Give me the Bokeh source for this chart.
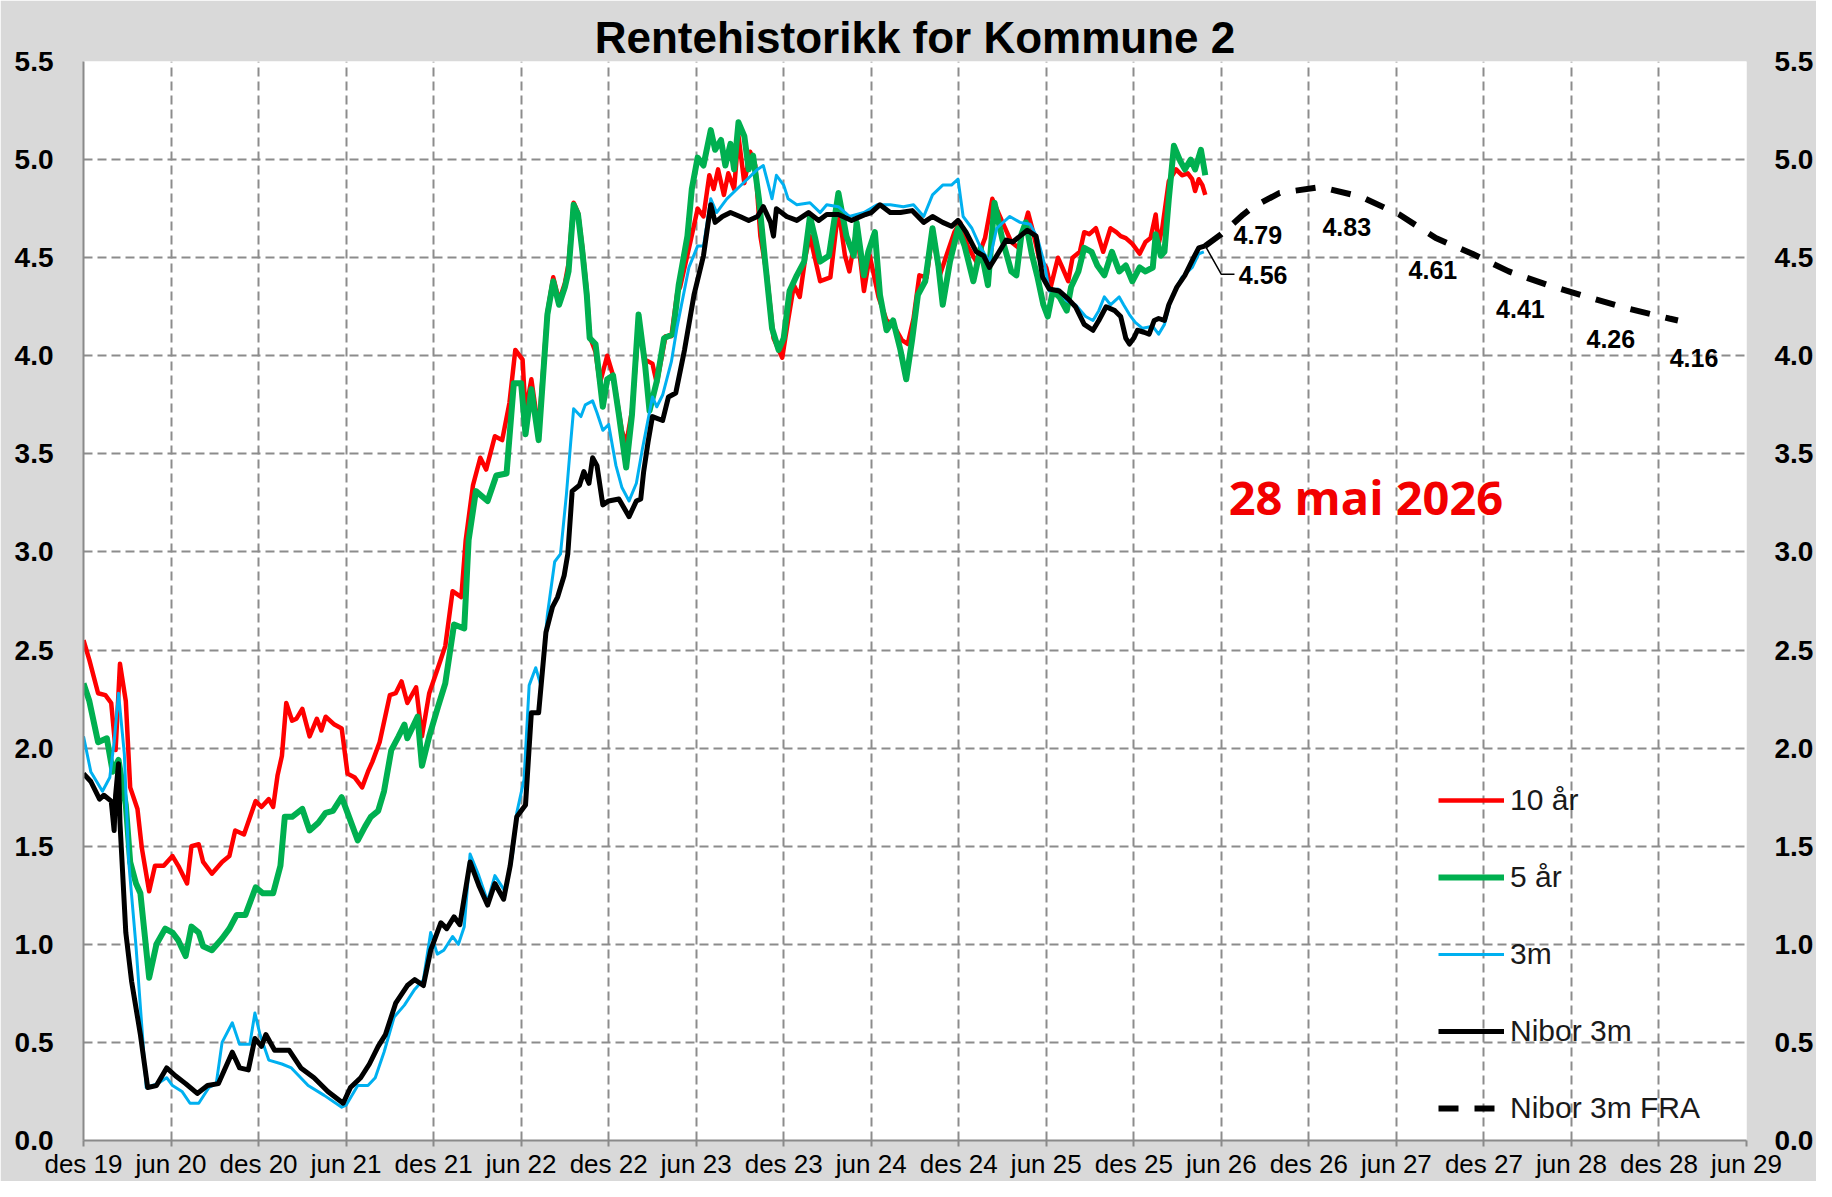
from bokeh.plotting import figure
from bokeh.models import Range1d, LinearAxis, FixedTicker, Legend, LegendItem, Label, NumeralTickFormatter
from bokeh.embed import file_html
from bokeh.resources import INLINE
from bokeh.core.properties import value

# x = months since December 2019
tick_pos = list(range(0, 115, 6))
tick_labels = ["des 19", "jun 20", "des 20", "jun 21", "des 21", "jun 22", "des 22",
               "jun 23", "des 23", "jun 24", "des 24", "jun 25", "des 25", "jun 26",
               "des 26", "jun 27", "des 27", "jun 28", "des 28", "jun 29"]

red_x = [0.0, 0.4, 1.0, 1.5, 1.9, 2.2, 2.5, 2.9, 3.2, 3.7, 4.0, 4.5, 4.9, 5.5, 6.1, 6.5, 7.1, 7.4, 7.9, 8.2,
         8.8, 9.5, 10.0, 10.4, 11.0, 11.8, 12.2, 12.7, 13.0, 13.3, 13.6, 13.9, 14.3, 14.6, 15.0, 15.5, 16.0, 16.3,
         16.6, 17.2, 17.7, 18.1, 18.6, 19.1, 19.5, 19.8, 20.3, 21.0, 21.4, 21.8, 22.2, 22.8, 23.2, 23.7, 24.3,
         24.8, 25.3, 25.9, 26.2, 26.7, 27.2, 27.6, 28.2, 28.7, 29.2, 29.6, 30.1, 30.3, 30.7, 31.2, 31.8, 32.2,
         32.6, 33.0, 33.25, 33.6, 33.9, 34.2, 34.5, 34.7, 35.1, 35.4, 35.9, 36.3, 36.9, 37.2, 37.6, 38.05, 38.5,
         39.0, 39.3, 39.9, 40.3, 40.7, 40.9, 41.6, 42.1, 42.5, 42.9, 43.2, 43.5, 43.9, 44.2, 44.6, 44.9, 45.3,
         45.7, 46.05, 46.4, 46.85, 47.3, 47.9, 48.3, 48.7, 49.1, 49.5, 49.8, 50.5, 51.2, 51.75, 52.2, 52.5, 53.0,
         53.5, 53.9, 54.5, 55.05, 55.5, 56.1, 56.5, 56.9, 57.3, 57.8, 58.2, 58.7, 59.15, 59.7, 60.1, 60.6, 61.2,
         61.8, 62.3, 63.0, 63.6, 64.1, 64.75, 65.1, 65.5, 66.0, 66.3, 66.8, 67.1, 67.5, 67.8, 68.3, 68.6, 68.95,
         69.4, 69.9, 70.4, 70.8, 71.1, 71.45, 71.9, 72.4, 72.8, 73.15, 73.5, 73.7, 73.95, 74.4, 74.9, 75.3, 75.7,
         76.0, 76.2, 76.45, 76.7, 76.9]
red_y = [2.55, 2.45, 2.28, 2.27, 2.23, 1.99, 2.43, 2.24, 1.80, 1.69, 1.49, 1.27, 1.40, 1.40, 1.45, 1.40, 1.31, 1.50,
         1.51, 1.42, 1.36, 1.42, 1.45, 1.58, 1.56, 1.73, 1.70, 1.74, 1.70, 1.86, 1.96, 2.23, 2.14, 2.15, 2.20, 2.06,
         2.15, 2.09, 2.16, 2.12, 2.10, 1.87, 1.85, 1.80, 1.88, 1.93, 2.03, 2.27, 2.28, 2.34, 2.23, 2.31, 2.06, 2.28,
         2.41, 2.52, 2.80, 2.77, 3.06, 3.34, 3.48, 3.42, 3.59, 3.57, 3.76, 4.03, 3.98, 3.71, 3.88, 3.62, 4.22, 4.40,
         4.28, 4.37, 4.47, 4.78, 4.73, 4.55, 4.33, 4.10, 4.02, 3.86, 4.00, 3.90, 3.62, 3.55, 3.72, 4.15, 3.98, 3.96,
         3.86, 4.10, 4.10, 4.32, 4.35, 4.58, 4.75, 4.71, 4.92, 4.85, 4.95, 4.82, 4.93, 4.85, 5.12, 4.88, 5.04, 4.97,
         4.61, 4.41, 4.09, 3.99, 4.18, 4.36, 4.30, 4.51, 4.61, 4.38, 4.40, 4.75, 4.51, 4.43, 4.65, 4.33, 4.51, 4.30,
         4.18, 4.16, 4.08, 4.06, 4.19, 4.41, 4.40, 4.63, 4.41, 4.51, 4.63, 4.68, 4.56, 4.48, 4.60, 4.80, 4.68, 4.58,
         4.55, 4.73, 4.63, 4.50, 4.45, 4.35, 4.50, 4.45, 4.38, 4.50, 4.53, 4.63, 4.62, 4.65, 4.53, 4.65, 4.63, 4.61,
         4.60, 4.57, 4.52, 4.58, 4.60, 4.72, 4.57, 4.65, 4.89, 4.95, 4.92, 4.93, 4.90, 4.84, 4.90, 4.87, 4.82]

green_x = [0.0, 0.4, 1.0, 1.6, 2.0, 2.4, 2.9, 3.2, 3.6, 3.9, 4.5, 5.0, 5.6, 6.1, 6.5, 7.0, 7.4, 7.9, 8.2, 8.8, 9.5,
           10.0, 10.5, 11.1, 11.8, 12.3, 13.0, 13.5, 13.8, 14.3, 15.0, 15.5, 16.1, 16.6, 17.1, 17.7, 18.1, 18.8,
           19.3, 19.7, 20.2, 20.6, 21.1, 21.6, 22.0, 22.2, 22.9, 23.2, 23.7, 24.3, 24.8, 25.4, 26.1, 26.4, 26.9,
           27.7, 28.3, 29.0, 29.5, 30.0, 30.3, 30.7, 31.2, 31.8, 32.2, 32.6, 33.0, 33.25, 33.6, 33.9, 34.2, 34.5,
           34.7, 35.1, 35.6, 35.9, 36.3, 36.7, 37.2, 37.6, 38.05, 38.5, 38.8, 39.3, 39.8, 40.4, 40.8, 41.4, 41.7,
           42.1, 42.5, 43.0, 43.3, 43.7, 44.0, 44.35, 44.6, 44.9, 45.3, 45.6, 45.9, 46.3, 46.7, 47.2, 47.65, 48.0,
           48.4, 48.9, 49.4, 49.8, 50.15, 50.5, 51.1, 51.75, 52.3, 52.8, 53.0, 53.5, 53.8, 54.25, 54.6, 55.05, 55.5,
           56.0, 56.4, 56.8, 57.2, 57.7, 58.2, 58.6, 58.9, 59.4, 59.95, 60.4, 61.0, 61.5, 62.0, 62.45, 63.0, 63.6,
           63.95, 64.3, 64.6, 65.0, 65.4, 65.8, 66.1, 66.45, 66.9, 67.4, 67.7, 68.2, 68.6, 69.1, 69.5, 69.98, 70.5,
           71.0, 71.45, 71.9, 72.4, 72.8, 73.3, 73.5, 73.85, 74.1, 74.4, 74.75, 75.2, 75.5, 75.9, 76.2, 76.6, 76.9]
green_y = [2.33, 2.24, 2.03, 2.05, 1.88, 1.94, 1.71, 1.42, 1.31, 1.26, 0.83, 1.00, 1.08, 1.06, 1.02, 0.94, 1.09, 1.06,
           0.99, 0.97, 1.03, 1.08, 1.15, 1.15, 1.29, 1.26, 1.26, 1.40, 1.65, 1.65, 1.69, 1.58, 1.62, 1.67, 1.68, 1.75,
           1.67, 1.53, 1.60, 1.65, 1.68, 1.78, 1.99, 2.06, 2.12, 2.05, 2.16, 1.91, 2.06, 2.21, 2.33, 2.63, 2.61, 3.06,
           3.31, 3.26, 3.39, 3.40, 3.86, 3.86, 3.60, 3.83, 3.57, 4.21, 4.38, 4.26, 4.35, 4.43, 4.77, 4.72, 4.53, 4.31,
           4.09, 4.06, 3.74, 3.88, 3.90, 3.70, 3.43, 3.70, 4.21, 3.95, 3.72, 3.87, 4.09, 4.11, 4.36, 4.61, 4.85, 5.01,
           4.97, 5.15, 5.05, 5.10, 4.97, 5.08, 4.95, 5.19, 5.12, 4.95, 5.02, 4.80, 4.50, 4.14, 4.03, 4.09, 4.33, 4.41,
           4.48, 4.71, 4.60, 4.48, 4.51, 4.83, 4.61, 4.51, 4.68, 4.41, 4.53, 4.63, 4.31, 4.13, 4.18, 4.03, 3.88, 4.08,
           4.31, 4.38, 4.65, 4.46, 4.26, 4.48, 4.65, 4.56, 4.38, 4.55, 4.36, 4.78, 4.59, 4.43, 4.41, 4.62, 4.68, 4.52,
           4.40, 4.26, 4.20, 4.33, 4.30, 4.23, 4.35, 4.43, 4.55, 4.53, 4.46, 4.41, 4.53, 4.43, 4.46, 4.38, 4.45, 4.43,
           4.45, 4.62, 4.51, 4.53, 4.80, 5.07, 4.99, 4.95, 5.00, 4.95, 5.05, 4.92]

blue_x = [0.0, 0.5, 1.3, 1.8, 2.1, 2.4, 2.8, 3.1, 3.6, 4.3, 5.1, 5.7, 6.1, 6.75, 7.3, 7.9, 8.6, 9.1, 9.5, 10.2, 10.7,
          11.4, 11.75, 12.1, 12.7, 13.6, 14.25, 15.4, 16.5, 17.7, 18.0, 18.8, 19.5, 20.0, 20.6, 21.3, 22.0, 22.7,
          23.3, 23.8, 24.25, 24.7, 25.3, 25.7, 26.1, 26.5, 27.1, 27.7, 28.2, 28.9, 29.4, 29.7, 30.2, 30.55, 31.0,
          31.35, 31.8, 32.3, 32.7, 33.1, 33.4, 33.6, 34.1, 34.4, 34.9, 35.2, 35.6, 36.0, 36.5, 36.9, 37.4, 37.9,
          38.3, 39.0, 39.3, 39.7, 40.3, 40.7, 41.1, 41.5, 42.1, 42.5, 43.0, 43.4, 44.1, 44.8, 45.5, 46.2, 46.6,
          47.2, 47.5, 48.0, 48.3, 48.9, 49.8, 50.5, 50.95, 51.75, 52.5, 53.5, 54.4, 55.3, 56.2, 56.9, 57.6, 58.2,
          58.9, 59.5, 59.95, 60.3, 60.9, 61.5, 62.1, 62.6, 63.5, 64.2, 64.9, 65.4, 65.9, 66.2, 66.8, 67.4, 68.0,
          68.7, 69.2, 69.6, 69.98, 70.4, 71.0, 71.3, 71.7, 72.1, 72.6, 73.3, 73.7, 74.1, 74.6, 75.3, 76.0, 76.45,
          76.8]
blue_y = [2.06, 1.88, 1.78, 1.85, 2.03, 2.28, 1.97, 1.42, 0.99, 0.27, 0.29, 0.32, 0.28, 0.25, 0.19, 0.19, 0.27, 0.29,
          0.50, 0.60, 0.49, 0.49, 0.65, 0.54, 0.41, 0.39, 0.37, 0.28, 0.23, 0.17, 0.18, 0.28, 0.28, 0.32, 0.45, 0.63,
          0.69, 0.77, 0.82, 1.06, 0.95, 0.97, 1.04, 1.00, 1.09, 1.46, 1.35, 1.22, 1.35, 1.27, 1.45, 1.67, 1.84, 2.32,
          2.41, 2.32, 2.68, 2.95, 2.99, 3.29, 3.56, 3.73, 3.69, 3.75, 3.77, 3.71, 3.62, 3.65, 3.44, 3.33, 3.26, 3.35,
          3.52, 3.79, 3.74, 3.80, 3.97, 4.15, 4.30, 4.45, 4.56, 4.56, 4.80, 4.73, 4.80, 4.85, 4.90, 4.95, 4.97, 4.80,
          4.92, 4.87, 4.80, 4.77, 4.78, 4.73, 4.77, 4.76, 4.71, 4.73, 4.77, 4.77, 4.76, 4.77, 4.71, 4.82, 4.87, 4.87,
          4.90, 4.71, 4.65, 4.55, 4.48, 4.65, 4.71, 4.68, 4.67, 4.60, 4.46, 4.33, 4.34, 4.28, 4.26, 4.20, 4.18, 4.23,
          4.30, 4.26, 4.30, 4.26, 4.21, 4.17, 4.14, 4.15, 4.11, 4.16, 4.30, 4.40, 4.45, 4.52, 4.53]

nibor_x = [0.0, 0.5, 1.1, 1.4, 1.9, 2.1, 2.2, 2.4, 2.5, 2.9, 3.3, 3.9, 4.4, 5.0, 5.7, 6.3, 7.0, 7.8, 8.5, 9.25, 10.2,
           10.7, 11.3, 11.75, 12.2, 12.5, 13.1, 14.1, 14.9, 15.8, 16.75, 17.8, 18.3, 19.0, 19.6, 20.2, 20.7, 21.4,
           22.2, 22.7, 23.3, 23.8, 24.5, 24.9, 25.4, 25.8, 26.5, 27.1, 27.7, 28.2, 28.8, 29.25, 29.7, 30.3, 30.7,
           31.2, 31.7, 32.15, 32.5, 32.95, 33.2, 33.5, 34.0, 34.3, 34.65, 34.9, 35.2, 35.6, 36.0, 36.7, 37.4, 37.9,
           38.2, 38.4, 38.7, 39.0, 39.7, 40.1, 40.6, 41.2, 41.85, 42.5, 43.0, 43.3, 43.8, 44.35, 45.0, 45.6, 46.2,
           46.6, 47.1, 47.3, 47.5, 48.2, 48.9, 49.7, 50.4, 50.95, 51.75, 52.65, 53.6, 54.0, 54.6, 55.3, 56.0, 56.8,
           57.6, 58.2, 58.9, 59.5, 59.95, 60.5, 61.2, 61.7, 62.1, 62.6, 63.25, 63.7, 64.2, 64.7, 65.3, 65.75, 66.2,
           66.9, 67.5, 68.0, 68.6, 69.2, 69.6, 70.1, 70.7, 71.1, 71.45, 71.7, 72.0, 72.25, 72.7, 73.05, 73.4, 73.7,
           74.1, 74.4, 74.95, 75.5, 76.1, 76.45, 76.9]
nibor_y = [1.87, 1.83, 1.74, 1.76, 1.73, 1.58, 1.76, 1.92, 1.62, 1.06, 0.81, 0.54, 0.27, 0.28, 0.37, 0.33, 0.29, 0.24,
           0.28, 0.29, 0.45, 0.37, 0.36, 0.52, 0.48, 0.54, 0.46, 0.46, 0.37, 0.32, 0.25, 0.19, 0.27, 0.32, 0.39, 0.48,
           0.54, 0.70, 0.79, 0.82, 0.79, 0.97, 1.11, 1.08, 1.14, 1.10, 1.42, 1.30, 1.20, 1.31, 1.23, 1.40, 1.65, 1.71,
           2.18, 2.18, 2.59, 2.72, 2.77, 2.88, 2.99, 3.31, 3.34, 3.41, 3.35, 3.48, 3.44, 3.24, 3.26, 3.27, 3.18, 3.26,
           3.27, 3.41, 3.56, 3.69, 3.67, 3.79, 3.81, 4.03, 4.31, 4.51, 4.77, 4.68, 4.71, 4.73, 4.71, 4.69, 4.71, 4.76,
           4.68, 4.61, 4.75, 4.71, 4.69, 4.73, 4.69, 4.72, 4.72, 4.69, 4.72, 4.73, 4.77, 4.73, 4.73, 4.74, 4.68, 4.71,
           4.68, 4.66, 4.69, 4.63, 4.53, 4.51, 4.45, 4.51, 4.59, 4.58, 4.61, 4.64, 4.61, 4.40, 4.34, 4.33, 4.29, 4.25,
           4.16, 4.13, 4.18, 4.25, 4.23, 4.20, 4.09, 4.06, 4.09, 4.13, 4.12, 4.11, 4.18, 4.19, 4.18, 4.26, 4.35, 4.41,
           4.50, 4.55, 4.56]

fra_x = [76.9, 78.0, 79.5, 80.2, 82.0, 84.8, 87.6, 90.2, 92.7, 95.2, 97.7, 100.4, 103.1, 105.9, 108.7, 109.3]
fra_y = [4.56, 4.62, 4.72, 4.76, 4.83, 4.86, 4.81, 4.72, 4.60, 4.52, 4.43, 4.36, 4.30, 4.24, 4.19, 4.18]

fra_label_x = [80.5, 86.6, 92.5, 98.5, 104.7, 110.4]
fra_label_v = [4.79, 4.83, 4.61, 4.41, 4.26, 4.16]

series_names = ["10 år", "5 år", "3m", "Nibor 3m", "Nibor 3m FRA"]
date_text = "28 mai 2026"
title_text = "Rentehistorikk for Kommune 2"

FONT = "Liberation Sans"

p = figure(width=1816, height=1181, x_range=Range1d(0, 114), y_range=Range1d(0, 5.5),
           output_backend="svg", toolbar_location=None,
           min_border_left=83, min_border_right=63, min_border_top=61, min_border_bottom=36,
           background_fill_color="white", border_fill_color="#d9d9d9", outline_line_color=None)

p.title.text = title_text
p.title.align = "center"
p.title.text_font = FONT
p.title.text_font_size = "44px"
p.title.text_font_style = "bold"
p.title.text_color = "black"
p.title.standoff = 0

# axes
p.xaxis.ticker = FixedTicker(ticks=tick_pos)
p.xaxis.major_label_overrides = {t: l for t, l in zip(tick_pos, tick_labels)}
p.xaxis.major_label_text_font = FONT
p.xaxis.major_label_text_font_size = "26px"
p.xaxis.major_label_text_color = "black"
p.xaxis.axis_line_color = "#8a8a8a"
p.xaxis.axis_line_width = 2
p.xaxis.major_tick_line_color = "#8a8a8a"
p.xaxis.major_tick_line_width = 2
p.xaxis.major_tick_in = 0
p.xaxis.major_tick_out = 6
p.xaxis.minor_tick_line_color = None
p.xaxis.major_label_standoff = 2

yticks = [i * 0.5 for i in range(12)]
p.yaxis.ticker = FixedTicker(ticks=yticks)
p.yaxis.formatter = NumeralTickFormatter(format="0.0")
right_axis = LinearAxis(ticker=FixedTicker(ticks=yticks), formatter=NumeralTickFormatter(format="0.0"))
p.add_layout(right_axis, "right")
for ax in p.yaxis:
    ax.major_label_text_font = FONT
    ax.major_label_text_font_size = "28px"
    ax.major_label_text_font_style = "bold"
    ax.major_label_text_color = "black"
    ax.major_tick_line_color = None
    ax.minor_tick_line_color = None
    ax.major_label_standoff = 24
right_axis.major_label_standoff = 22
p.yaxis[0].axis_line_color = "#8a8a8a"
p.yaxis[0].axis_line_width = 2
right_axis.axis_line_color = None

for g in (p.xgrid[0], p.ygrid[0]):
    g.grid_line_color = "#8c8c8c"
    g.grid_line_dash = "9 5"
    g.grid_line_width = 2

r_red = p.line(red_x, red_y, line_color="#ff0000", line_width=4.5, line_join="round")
r_green = p.line(green_x, green_y, line_color="#00b050", line_width=6, line_join="round")
r_blue = p.line(blue_x, blue_y, line_color="#00b0f0", line_width=3, line_join="round")
r_black = p.line(nibor_x, nibor_y, line_color="black", line_width=5, line_join="round")
r_fra = p.line(fra_x, fra_y, line_color="black", line_width=6, line_dash="20 16")

# FRA value labels, placed below the curve
p.text(x=fra_label_x, y=fra_label_v, text=[f"{v:.2f}" for v in fra_label_v], y_offset=34,
       text_align="center", text_baseline="middle", text_font=value(FONT),
       text_font_style="bold", text_font_size="25px", text_color="black")

# last Nibor value with leader line
x0, y0 = nibor_x[-1], nibor_y[-1]
p.line([x0, x0 + 1.1, x0 + 2.0], [y0, y0 - 0.145, y0 - 0.145], line_color="black", line_width=1.5)
p.text(x=[x0 + 2.3], y=[y0], text=[f"{y0:.2f}"], y_offset=29, text_align="left", text_baseline="middle",
       text_font=value(FONT), text_font_style="bold", text_font_size="25px", text_color="black")

p.add_layout(Label(x=78.5, y=3.28, text=date_text, text_font="Open Sans", text_font_style="bold",
                   text_font_size="47px", text_color="#f20000", text_baseline="middle", text_align="left"))

legend = Legend(items=[LegendItem(label=n, renderers=[r]) for n, r in
                       zip(series_names, [r_red, r_green, r_blue, r_black, r_fra])],
                location=(1355, 15), orientation="vertical", background_fill_alpha=0,
                border_line_color=None, padding=0, margin=0, spacing=43,
                glyph_width=66, glyph_height=20, label_height=30, label_standoff=6,
                label_text_font=FONT, label_text_font_size="30px", label_text_color="#1a1a1a")
p.add_layout(legend, "center")

open("out.html", "w").write(file_html(p, INLINE))
